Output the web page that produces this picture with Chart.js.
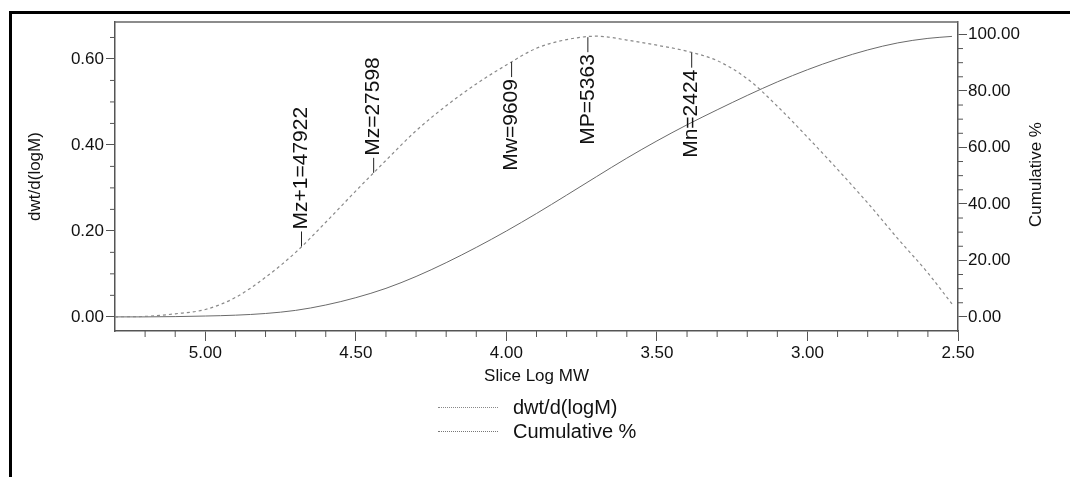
<!DOCTYPE html>
<html>
<head>
<meta charset="utf-8">
<script src="https://cdn.jsdelivr.net/npm/chart.js@4.4.1/dist/chart.umd.min.js"></script>
<style>
  body { margin: 0; background: #fff; font-family: "Liberation Sans", Arial, sans-serif; }
  .wrap { position: relative; width: 1070px; height: 477px; overflow: hidden; }
  .frame { position: absolute; left: 9px; top: 11px; right: -10px; bottom: -10px; border-left: 3px solid #000; border-top: 3px solid #000; }
  canvas { position: absolute; left: 0; top: 0; }
  .legend { position: absolute; left: 438px; top: 395px; color: #111; font-size: 20px; }
  .legend .item { display: flex; align-items: center; height: 24px; }
  .legend .swatch { width: 60px; height: 0; border-top: 1px dotted #888; margin-right: 15px; }
</style>
</head>
<body>
<div class="wrap">
  <div class="frame"></div>
  <canvas id="gpcChart" width="1070" height="477"></canvas>
  <div class="legend">
    <div class="item"><span class="swatch"></span>dwt/d(logM)</div>
    <div class="item"><span class="swatch" style="border-top-color:#777"></span>Cumulative %</div>
  </div>
</div>
<script>
// Slice log MW (x) and the two curves
const logMW = [5.3, 5.2, 5.1, 5.0, 4.9, 4.8, 4.7, 4.6, 4.5, 4.4, 4.3, 4.2, 4.1, 4.0, 3.9, 3.8,
  3.7, 3.6, 3.5, 3.4, 3.3, 3.2, 3.1, 3.0, 2.9, 2.8, 2.7, 2.6, 2.52]
const dwt = [0.000, 0.001, 0.007, 0.017, 0.045, 0.092, 0.150, 0.220, 0.293, 0.364, 0.433, 0.491, 0.542, 0.586, 0.625, 0.645,
  0.653, 0.644, 0.632, 0.618, 0.596, 0.554, 0.490, 0.418, 0.343, 0.265, 0.182, 0.102, 0.030]
const cumulative = [0.0, 0.0, 0.1, 0.3, 0.6, 1.2, 2.3, 4.2, 6.8, 10.1, 14.3, 19.2, 24.6, 30.4, 36.6, 43.1,
  49.7, 56.2, 62.3, 68.0, 73.3, 78.4, 83.2, 87.5, 91.3, 94.5, 97.0, 98.6, 99.3]

// Axis tick labels
const xTicks = [5.0, 4.5, 4.0, 3.5, 3.0, 2.5]
const yTicks = [0, 0.2, 0.4, 0.6]
const y1Ticks = [0, 20, 40, 60, 80, 100]

// Molecular weight averages marked on the distribution
const markerNames = ["Mz+1", "Mz", "Mw", "MP", "Mn"]
const markerMW = [47922, 27598, 9609, 5363, 2424]
const markerSide = ["up", "up", "down", "down", "down"]

Chart.defaults.font.family = '"Liberation Sans", Arial, sans-serif'
Chart.defaults.color = "#111"

// dwt value at a given log MW (linear between read points)
function dwtAt(lx) {
  for (let i = 0; i < logMW.length - 1; i++) {
    const a = logMW[i], b = logMW[i + 1]
    if (lx <= a && lx >= b) {
      return dwt[i] + (dwt[i + 1] - dwt[i]) * (a - lx) / (a - b)
    }
  }
  return 0
}

function line(ctx, x1, y1, x2, y2) {
  ctx.beginPath()
  ctx.moveTo(x1, y1)
  ctx.lineTo(x2, y2)
  ctx.stroke()
}

// Top frame, minor ticks, MW markers and right axis title
const extras = {
  id: "extras",
  afterDraw(chart) {
    const ctx = chart.ctx
    const area = chart.chartArea
    const x = chart.scales.x, y = chart.scales.y, y1 = chart.scales.y1
    ctx.save()
    ctx.strokeStyle = "#666"
    ctx.lineWidth = 1.5
    line(ctx, area.left, area.top, area.right, area.top)

    ctx.strokeStyle = "#555"
    ctx.lineWidth = 1
    for (let i = 26; i <= 52; i++) {
      if (i % 5 === 0) continue
      const px = x.getPixelForValue(i / 10)
      line(ctx, px, area.bottom, px, area.bottom + 6)
    }
    for (let i = 1; i <= 13; i++) {
      if (i % 4 === 0) continue
      const py = y.getPixelForValue(i * 0.05)
      line(ctx, area.left - 5, py, area.left, py)
    }
    for (let i = 1; i <= 20; i++) {
      if (i % 4 === 0) continue
      const py = y1.getPixelForValue(i * 5)
      line(ctx, area.right, py, area.right + 5, py)
    }

    // markers
    ctx.strokeStyle = "#222"
    ctx.fillStyle = "#111"
    ctx.font = '21px "Liberation Sans", Arial, sans-serif'
    markerNames.forEach((name, i) => {
      const lx = Math.log10(markerMW[i])
      const px = x.getPixelForValue(lx)
      const py = y.getPixelForValue(dwtAt(lx))
      const up = markerSide[i] === "up"
      const end = up ? py - 15 : py + 15
      line(ctx, px, py, px, end)
      ctx.save()
      ctx.translate(px, up ? end - 2 : end + 2)
      ctx.rotate(-Math.PI / 2)
      ctx.textAlign = up ? "left" : "right"
      ctx.textBaseline = "middle"
      ctx.fillText(name + "=" + markerMW[i], 0, 0)
      ctx.restore()
    })

    // right axis title, reads bottom to top like the left one
    ctx.font = '17px "Liberation Sans", Arial, sans-serif'
    ctx.translate(1036, (area.top + area.bottom) / 2 - 2)
    ctx.rotate(-Math.PI / 2)
    ctx.textAlign = "center"
    ctx.textBaseline = "middle"
    ctx.fillText("Cumulative %", 0, 0)
    ctx.restore()
  }
}

const tickFont = { size: 17 }
const axisGrid = { display: true, drawOnChartArea: false, drawTicks: true, color: "#555" }
const axisBorder = { display: true, color: "#555", width: 1.5 }

new Chart(document.getElementById("gpcChart"), {
  type: "line",
  data: {
    datasets: [
      {
        label: "dwt/d(logM)",
        data: logMW.map((v, i) => ({ x: v, y: dwt[i] })),
        yAxisID: "y",
        borderColor: "#8a8a8a",
        borderWidth: 1.2,
        borderDash: [3, 3],
        pointRadius: 0,
        cubicInterpolationMode: "monotone",
        fill: false,
      },
      {
        label: "Cumulative %",
        data: logMW.map((v, i) => ({ x: v, y: cumulative[i] })),
        yAxisID: "y1",
        borderColor: "#6a6a6a",
        borderWidth: 1,
        pointRadius: 0,
        cubicInterpolationMode: "monotone",
        fill: false,
      },
    ],
  },
  options: {
    responsive: false,
    animation: false,
    layout: { padding: { left: 0, right: 0, top: 22, bottom: 87 } },
    plugins: {
      legend: { display: false },
      tooltip: { enabled: false },
    },
    scales: {
      x: {
        type: "linear",
        reverse: true,
        min: 2.5,
        max: 5.3,
        afterBuildTicks: (scale) => { scale.ticks = xTicks.map((v) => ({ value: v })) },
        afterFit: (scale) => { scale.height = 59 },
        ticks: { font: tickFont, autoSkip: false, maxRotation: 0, padding: 2, callback: (v) => Number(v).toFixed(2) },
        grid: { ...axisGrid, tickLength: 10 },
        border: axisBorder,
        title: { display: true, text: "Slice Log MW", font: { size: 17 }, padding: { top: 0, bottom: 3 } },
      },
      y: {
        position: "left",
        min: -0.033,
        max: 0.686,
        afterBuildTicks: (scale) => { scale.ticks = yTicks.map((v) => ({ value: v })) },
        afterFit: (scale) => { scale.width = 115 },
        ticks: { font: tickFont, padding: 2, callback: (v) => Number(v).toFixed(2) },
        grid: { ...axisGrid, tickLength: 9 },
        border: axisBorder,
        title: { display: true, text: "dwt/d(logM)", font: { size: 17 }, padding: { top: 25, bottom: 0 } },
      },
      y1: {
        position: "right",
        min: -5.0,
        max: 104.4,
        afterBuildTicks: (scale) => { scale.ticks = y1Ticks.map((v) => ({ value: v })) },
        afterFit: (scale) => { scale.width = 112 },
        ticks: { font: tickFont, padding: 1, callback: (v) => Number(v).toFixed(2) },
        grid: { ...axisGrid, tickLength: 9 },
        border: axisBorder,
      },
    },
  },
  plugins: [extras],
})
</script>
</body>
</html>
